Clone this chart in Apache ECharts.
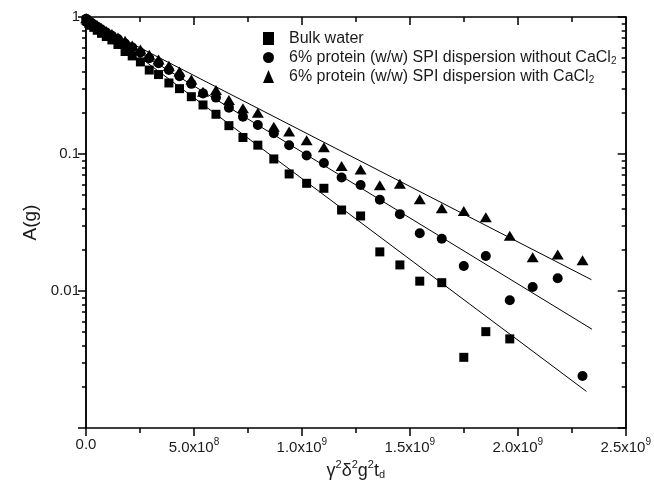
<!DOCTYPE html>
<html><head><meta charset="utf-8">
<script src="https://cdn.jsdelivr.net/npm/echarts@6/dist/echarts.min.js"></script>
<style>html,body{margin:0;padding:0;background:#fff}#c{width:654px;height:491px}</style>
</head><body><div id="c"></div>
<script>
// x values in units of 1e9 (gamma^2 delta^2 g^2 t_d)
const xValues = [0.001,0.005,0.0125,0.023,0.036,0.052,0.072,0.094,0.120,0.148,0.181,0.214,0.252,0.293,0.336,0.384,0.433,0.488,
  0.542,0.602,0.662,0.727,0.796,0.870,0.941,1.022,1.102,1.184,1.272,1.361,1.454,1.546,1.648,1.750,1.852,1.963,2.069,2.185,2.300];
const bulkWater = [0.95,0.93,0.90,0.87,0.84,0.80,0.76,0.72,0.68,0.63,0.56,0.52,0.47,0.41,0.38,0.33,0.30,0.262,
  0.228,0.195,0.161,0.132,0.116,0.092,0.0715,0.0611,0.0562,0.039,0.0353,0.0193,0.0155,0.0118,0.0115,0.00328,0.00505,0.00447];
const withoutCaCl2 = [0.97,0.95,0.93,0.91,0.88,0.85,0.81,0.77,0.73,0.69,0.64,0.60,0.55,0.50,0.46,0.41,0.37,0.325,
  0.277,0.258,0.218,0.187,0.163,0.142,0.116,0.0975,0.086,0.0674,0.0594,0.0464,0.0364,0.0264,0.0241,0.0152,0.0180,0.00857,0.0107,0.0124,0.00240];
const withCaCl2 = [0.98,0.96,0.94,0.92,0.90,0.87,0.83,0.79,0.75,0.71,0.67,0.62,0.58,0.53,0.49,0.44,0.40,0.35,
  0.285,0.293,0.248,0.216,0.200,0.158,0.146,0.126,0.112,0.0817,0.0771,0.0592,0.0607,0.0467,0.0401,0.0384,0.0345,0.0253,0.0176,0.0185,0.0168];
// fitted lines (endpoints)
const fitBulkX = [0, 2.318], fitBulkY = [1.0, 0.00185];
const fitWithoutX = [0, 2.344], fitWithoutY = [0.95, 0.00526];
const fitWithX = [0, 2.341], fitWithY = [0.95, 0.0121];
// tick labels
const xTickLabels = ['0.0','5.0x10{sup|8}','1.0x10{sup|9}','1.5x10{sup|9}','2.0x10{sup|9}','2.5x10{sup|9}'];
const yTickLabels = {'0':'1','-1':'0.1','-2':'0.01','-3':''};
const seriesNames = ['Bulk water','6% protein (w/w) SPI dispersion without CaCl₂','6% protein (w/w) SPI dispersion with CaCl₂'];

const pairs = (xs, ys) => ys.map((y, i) => [xs[i], y]);
const minorY = [];
[0.001, 0.01, 0.1].forEach(d => { for (let k = 2; k <= 9; k++) minorY.push(+(d * k).toPrecision(3)); });

const font = 'Liberation Sans, Arial, sans-serif';
const axisColor = '#000';
const txt = '#1a1a1a';
const chart = echarts.init(document.getElementById('c'));
const baseX = {type: 'value', min: 0, max: 2.5, interval: 0.5,
  axisLine: {onZero: false, lineStyle: {color: axisColor, width: 1.5}}, splitLine: {show: false}};
const baseY = {type: 'log', logBase: 10, min: 0.001, max: 1,
  axisLine: {onZero: false, lineStyle: {color: axisColor, width: 1.5}}, splitLine: {show: false}};
const mark = {color: '#000', opacity: 1};
chart.setOption({
  animation: false,
  backgroundColor: '#fff',
  grid: {left: 86, right: 28, top: 17, bottom: 63, containLabel: false},
  legend: {
    orient: 'vertical', left: 258, top: 25, itemGap: 2, itemWidth: 11, itemHeight: 13,
    data: seriesNames,
    formatter: n => n.replace('₂', '{sub|2}'),
    textStyle: {fontSize: 16, lineHeight: 17, fontFamily: font, color: txt, padding: [0, 0, 0, 10],
      rich: {sub: {fontSize: 10, lineHeight: 17, fontFamily: font, color: txt, verticalAlign: 'bottom'}}}
  },
  xAxis: [
    Object.assign({}, baseX, {position: 'bottom',
      name: 'γ{sup|2}δ{sup|2}g{sup|2}t{sub|d}', nameLocation: 'middle', nameGap: 26,
      nameTextStyle: {fontSize: 18, fontFamily: font, color: txt,
        rich: {sup: {fontSize: 11, fontFamily: font, color: txt, padding: [0, 0, 11, 0]},
               sub: {fontSize: 11, fontFamily: font, color: txt, padding: [9, 0, 0, 0]}}},
      axisTick: {show: true, inside: false, length: 8, lineStyle: {color: axisColor, width: 1.5}},
      minorTick: {show: true, splitNumber: 2, length: 5, lineStyle: {color: axisColor, width: 1.5}},
      axisLabel: {fontSize: 15, fontFamily: font, color: txt, margin: 9,
        formatter: v => xTickLabels[Math.round(v / 0.5)],
        rich: {sup: {fontSize: 10, fontFamily: font, color: txt, padding: [0, 0, 11, 0]}}}}),
    Object.assign({}, baseX, {position: 'top',
      axisTick: {show: true, inside: true, length: 8, lineStyle: {color: axisColor, width: 1.5}},
      minorTick: {show: true, splitNumber: 2, length: 5, lineStyle: {color: axisColor, width: 1.5}},
      axisLabel: {show: false}})
  ],
  yAxis: [
    Object.assign({}, baseY, {position: 'left',
      name: 'A(g)', nameLocation: 'middle', nameGap: 44, nameRotate: 90,
      nameTextStyle: {fontSize: 19, fontFamily: font, color: txt},
      axisTick: {show: true, inside: false, length: 8, lineStyle: {color: axisColor, width: 1.5}},
      axisLabel: {fontSize: 15, fontFamily: font, color: txt, margin: 6,
        formatter: v => yTickLabels[String(Math.round(Math.log10(v)))]}}),
    Object.assign({}, baseY, {position: 'left',
      axisTick: {show: true, inside: false, length: 4, customValues: minorY, lineStyle: {color: axisColor, width: 1.5}},
      axisLabel: {show: false}}),
    Object.assign({}, baseY, {position: 'right',
      axisTick: {show: true, inside: true, length: 8, lineStyle: {color: axisColor, width: 1.5}},
      axisLabel: {show: false}}),
    Object.assign({}, baseY, {position: 'right',
      axisTick: {show: true, inside: true, length: 4, customValues: minorY, lineStyle: {color: axisColor, width: 1.5}},
      axisLabel: {show: false}})
  ],
  series: [
    {name: seriesNames[0], type: 'scatter', symbol: 'rect', symbolSize: 9, itemStyle: mark,
      data: pairs(xValues, bulkWater), z: 3},
    {name: seriesNames[1], type: 'scatter', symbol: 'circle', symbolSize: 10, itemStyle: mark,
      data: pairs(xValues, withoutCaCl2), z: 3},
    {name: seriesNames[2], type: 'scatter', symbol: 'triangle', symbolSize: [12, 10], itemStyle: mark,
      data: pairs(xValues, withCaCl2), z: 3},
    {type: 'line', symbol: 'none', lineStyle: {color: '#000', width: 1}, data: pairs(fitBulkX, fitBulkY), z: 2},
    {type: 'line', symbol: 'none', lineStyle: {color: '#000', width: 1}, data: pairs(fitWithoutX, fitWithoutY), z: 2},
    {type: 'line', symbol: 'none', lineStyle: {color: '#000', width: 1}, data: pairs(fitWithX, fitWithY), z: 2}
  ]
});
</script></body></html>
